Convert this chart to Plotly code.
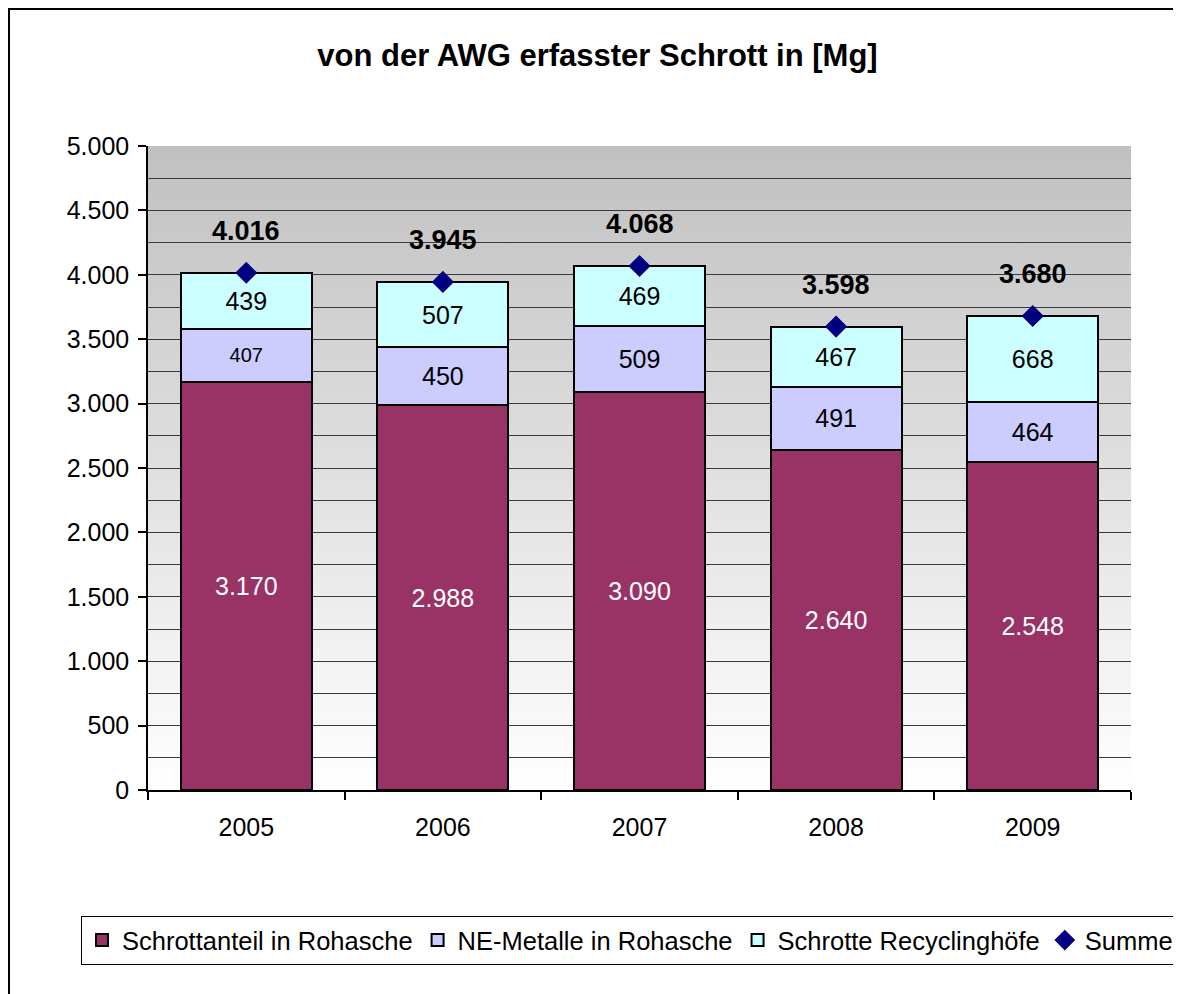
import base64
import plotly.graph_objects as go

years = ["2005", "2006", "2007", "2008", "2009"]
schrottanteil = [3170, 2988, 3090, 2640, 2548]
ne_metalle = [407, 450, 509, 491, 464]
recyclinghoefe = [439, 507, 469, 467, 668]
summe = [4016, 3945, 4068, 3598, 3680]
ne_label_sizes = [20, 25, 25, 25, 25]

OFF = 8  # page body margin
W, H = 1181 - OFF, 994 - OFF
L, R, T, B = 148 - OFF, 50, 146 - OFF, 204
pw, ph = W - L - R, H - T - B


def px_x(x):
    return (x - OFF - L) / pw


def px_y(y):
    return (H - B - (y - OFF)) / ph


font_family = "Liberation Sans, Arial, sans-serif"

fig = go.Figure()
fig.add_trace(go.Bar(
    x=years, y=schrottanteil, name="Schrottanteil in Rohasche",
    marker=dict(color="#993366", line=dict(color="black", width=2)),
    texttemplate="%{y:,}", textposition="inside", insidetextanchor="middle",
    textangle=0, textfont=dict(color="white", size=25, family=font_family),
    constraintext="none",
))
fig.add_trace(go.Bar(
    x=years, y=ne_metalle, name="NE-Metalle in Rohasche",
    marker=dict(color="#CCCCFF", line=dict(color="black", width=2)),
    texttemplate="%{y:,}", textposition="inside", insidetextanchor="middle",
    textangle=0, textfont=dict(color="black", size=ne_label_sizes, family=font_family),
    constraintext="none",
))
fig.add_trace(go.Bar(
    x=years, y=recyclinghoefe, name="Schrotte Recyclinghöfe",
    marker=dict(color="#CCFFFF", line=dict(color="black", width=2)),
    texttemplate="%{y:,}", textposition="inside", insidetextanchor="middle",
    textangle=0, textfont=dict(color="black", size=25, family=font_family),
    constraintext="none",
))
fig.add_trace(go.Scatter(
    x=years, y=summe, name="Summe", mode="markers",
    marker=dict(symbol="diamond", color="#000080", size=17),
))

for i, v in enumerate(summe):
    fig.add_annotation(
        x=i, y=v, text="<b>" + f"{v:,}".replace(",", ".") + "</b>",
        showarrow=False, yshift=42, xanchor="center", yanchor="middle",
        font=dict(size=27, color="black", family=font_family),
    )

svg = ('<svg xmlns="http://www.w3.org/2000/svg" width="100" height="100" '
       'preserveAspectRatio="none"><defs><linearGradient id="g" x1="0" y1="0" '
       'x2="0" y2="1"><stop offset="0" stop-color="#C0C0C0"/>'
       '<stop offset="1" stop-color="#FFFFFF"/></linearGradient></defs>'
       '<rect width="100" height="100" fill="url(#g)"/></svg>')
src = "data:image/svg+xml;base64," + base64.b64encode(svg.encode()).decode()

fig.add_layout_image(dict(
    source=src, xref="paper", yref="paper", x=0, y=1, sizex=1, sizey=1,
    sizing="stretch", xanchor="left", yanchor="top", layer="below",
))

fig.add_shape(
    type="rect", xref="paper", yref="paper",
    x0=px_x(OFF + 1), x1=px_x(1200), y0=px_y(1010), y1=px_y(OFF + 1),
    line=dict(color="black", width=2), fillcolor="rgba(0,0,0,0)", layer="below",
)

fig.update_layout(
    width=W, height=H,
    margin=dict(l=L, r=R, t=T, b=B, autoexpand=False),
    paper_bgcolor="white", plot_bgcolor="rgba(0,0,0,0)",
    separators=",.",
    barmode="stack", bargap=0.333,
    font=dict(family=font_family, size=25, color="black"),
    title=dict(
        text="<b>von der AWG erfasster Schrott in [Mg]</b>",
        x=(597.5 - OFF) / W, xanchor="center", xref="container",
        y=1 - (55 - OFF) / H, yanchor="middle", yref="container",
        font=dict(size=31, color="black", family=font_family),
    ),
    showlegend=True,
    legend=dict(
        orientation="h", traceorder="normal",
        x=px_x(81), xanchor="left", y=px_y(916), yanchor="top",
        bordercolor="black", borderwidth=1, bgcolor="white",
        font=dict(size=25.5, color="black", family=font_family),
        itemwidth=30,
    ),
    xaxis=dict(
        type="category", range=[-0.5, len(years) - 0.5],
        showline=True, linecolor="black", linewidth=1.5,
        ticks="outside", ticklen=8, tickcolor="black", tickwidth=1.5,
        tickson="boundaries", showgrid=False,
        tickfont=dict(size=25, color="black"),
        ticklabelstandoff=14,
    ),
    yaxis=dict(
        range=[0, 5000], dtick=500, tickformat=",d",
        showline=True, linecolor="black", linewidth=1.5,
        ticks="outside", ticklen=8, tickcolor="black", tickwidth=1.5,
        showgrid=True, gridcolor="#3a3a3a", gridwidth=1,
        minor=dict(dtick=250, showgrid=True, gridcolor="#3a3a3a", gridwidth=1, ticks=""),
        zeroline=False,
        tickfont=dict(size=25, color="black"),
        ticklabelstandoff=4,
    ),
)

fig.write_html("out.html")
